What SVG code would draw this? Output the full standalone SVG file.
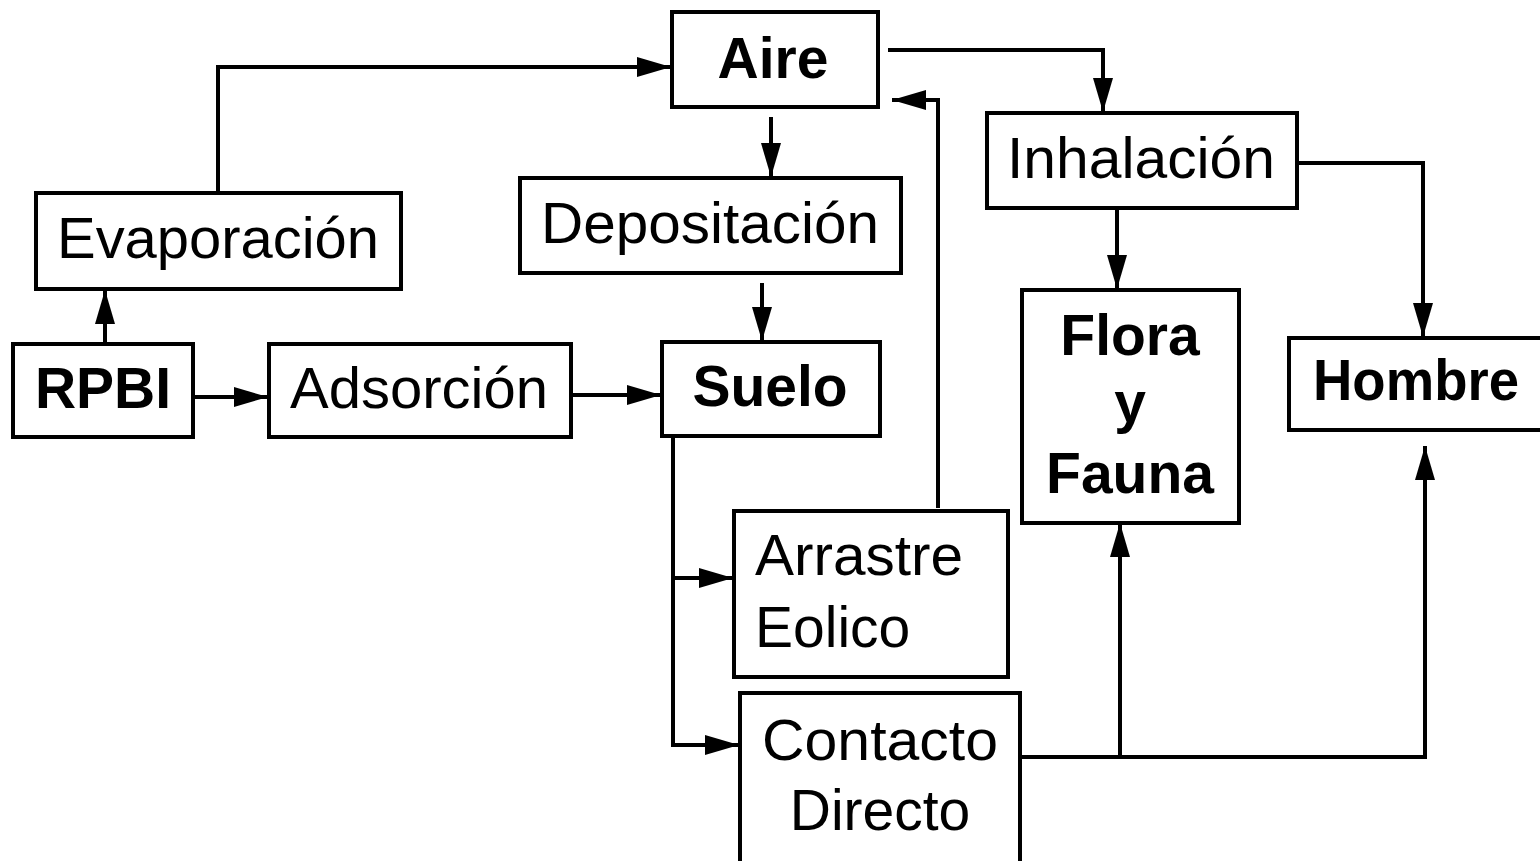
<svg xmlns="http://www.w3.org/2000/svg" width="1540" height="861" viewBox="0 0 1540 861">
<defs>
<marker id="ah" markerUnits="userSpaceOnUse" markerWidth="36" markerHeight="22" refX="34" refY="11" orient="auto">
<path d="M0,1 L34,11 L0,21 z" fill="#000"/>
</marker>
<style>
.box{fill:#fff;stroke:#000;stroke-width:4}
.t{font-family:"Liberation Sans",Arial,sans-serif;font-size:57px;fill:#000}
.b{font-weight:bold}
.c{fill:none;stroke:#000;stroke-width:4}
</style>
</defs>
<rect width="1540" height="861" fill="#fff"/>
<g id="connectors">
<path class="c" d="M218,193 V67 H671" marker-end="url(#ah)"/>
<path class="c" d="M105,344 V290" marker-end="url(#ah)"/>
<path class="c" d="M193,397 H268" marker-end="url(#ah)"/>
<path class="c" d="M571,395 H661" marker-end="url(#ah)"/>
<path class="c" d="M771,117 V177" marker-end="url(#ah)"/>
<path class="c" d="M762,283 V341" marker-end="url(#ah)"/>
<path class="c" d="M938,508 V100 H892" marker-end="url(#ah)"/>
<path class="c" d="M888,50 H1103 V112" marker-end="url(#ah)"/>
<path class="c" d="M1117,208 V289" marker-end="url(#ah)"/>
<path class="c" d="M1297,163 H1423 V337" marker-end="url(#ah)"/>
<path class="c" d="M673,436 V745 H739" marker-end="url(#ah)"/>
<path class="c" d="M673,578 H733" marker-end="url(#ah)"/>
<path class="c" d="M1020,757 H1425 V446" marker-end="url(#ah)"/>
<path class="c" d="M1120,757 V523" marker-end="url(#ah)"/>
</g>
<g id="aire"><rect class="box" x="672" y="12" width="206" height="95"/><text class="t b" x="773" y="78" text-anchor="middle">Aire</text></g>
<g id="evaporacion"><rect class="box" x="36" y="193" width="365" height="96"/><text class="t" x="218" y="258" text-anchor="middle" textLength="322" lengthAdjust="spacingAndGlyphs">Evaporación</text></g>
<g id="depositacion"><rect class="box" x="520" y="178" width="381" height="95"/><text class="t" x="710" y="243" text-anchor="middle" textLength="338" lengthAdjust="spacingAndGlyphs">Depositación</text></g>
<g id="rpbi"><rect class="box" x="13" y="344" width="180" height="93"/><text class="t b" x="103" y="408" text-anchor="middle">RPBI</text></g>
<g id="adsorcion"><rect class="box" x="269" y="344" width="302" height="93"/><text class="t" x="419" y="408" text-anchor="middle" textLength="258" lengthAdjust="spacingAndGlyphs">Adsorción</text></g>
<g id="suelo"><rect class="box" x="662" y="342" width="218" height="94"/><text class="t b" x="770" y="406" text-anchor="middle">Suelo</text></g>
<g id="inhalacion"><rect class="box" x="987" y="113" width="310" height="95"/><text class="t" x="1141" y="178" text-anchor="middle" textLength="268" lengthAdjust="spacingAndGlyphs">Inhalación</text></g>
<g id="flora"><rect class="box" x="1022" y="290" width="217" height="233"/><text class="t b" x="1130" y="355" text-anchor="middle">Flora</text><text class="t b" x="1130" y="422" text-anchor="middle">y</text><text class="t b" x="1130" y="493" text-anchor="middle">Fauna</text></g>
<g id="hombre"><rect class="box" x="1289" y="338" width="258" height="92"/><text class="t b" x="1416" y="400" text-anchor="middle" textLength="206" lengthAdjust="spacingAndGlyphs">Hombre</text></g>
<g id="arrastre"><rect class="box" x="734" y="511" width="274" height="166"/><text class="t" x="755" y="575" textLength="208" lengthAdjust="spacingAndGlyphs">Arrastre</text><text class="t" x="755" y="647">Eolico</text></g>
<g id="contacto"><rect class="box" x="740" y="693" width="280" height="170"/><text class="t" x="880" y="760" text-anchor="middle" textLength="236" lengthAdjust="spacingAndGlyphs">Contacto</text><text class="t" x="880" y="830" text-anchor="middle">Directo</text></g>
</svg>
